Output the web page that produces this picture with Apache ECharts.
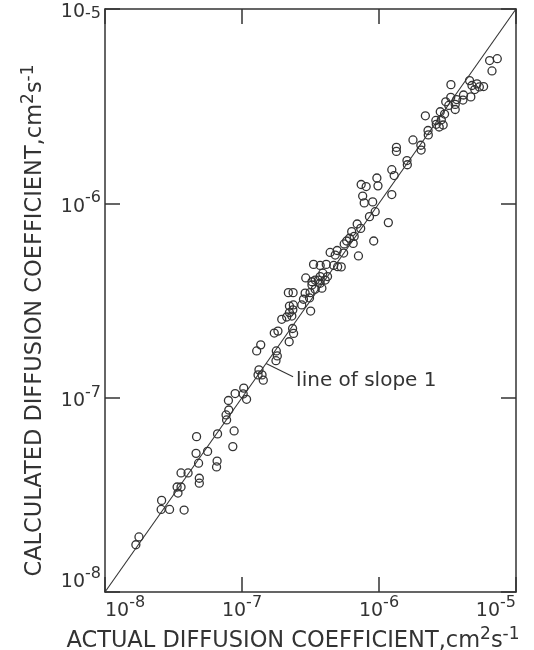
<!DOCTYPE html>
<html>
<head>
<meta charset="utf-8">
<script src="https://cdn.jsdelivr.net/npm/echarts@6/dist/echarts.min.js"></script>
<style>
html,body{margin:0;padding:0;background:#fff;}
#c{width:534px;height:650px;}
</style>
</head>
<body>
<div id="c"></div>
<script>
// Actual diffusion coefficient (cm^2 s^-1)
const actualD = [
1.68e-8,1.77e-8,2.59e-8,2.57e-8,2.96e-8,3.78e-8,3.36e-8,3.59e-8,3.41e-8,3.59e-8,
4.04e-8,4.88e-8,4.88e-8,4.62e-8,5.61e-8,4.82e-8,4.66e-8,6.58e-8,6.52e-8,6.63e-8,
8.76e-8,8.57e-8,7.65e-8,8.01e-8,7.72e-8,7.96e-8,8.91e-8,1.03e-7,1.02e-7,1.08e-7,
1.43e-7,1.33e-7,1.31e-7,1.40e-7,1.28e-7,1.37e-7,1.78e-7,1.81e-7,1.77e-7,1.72e-7,
1.83e-7,2.21e-7,2.38e-7,2.34e-7,1.95e-7,2.12e-7,2.31e-7,2.22e-7,2.35e-7,2.22e-7,
2.37e-7,2.73e-7,3.17e-7,2.81e-7,3.11e-7,2.89e-7,3.14e-7,2.18e-7,2.36e-7,2.92e-7,
3.24e-7,3.42e-7,3.61e-7,3.72e-7,3.83e-7,4.05e-7,4.21e-7,3.89e-7,3.72e-7,3.42e-7,
3.24e-7,3.33e-7,3.72e-7,4.12e-7,4.67e-7,4.99e-7,5.30e-7,4.40e-7,4.79e-7,4.95e-7,
5.52e-7,7.08e-7,5.57e-7,5.81e-7,6.48e-7,6.09e-7,6.32e-7,6.59e-7,9.15e-7,6.93e-7,
7.35e-7,8.52e-7,9.38e-7,8.99e-7,7.80e-7,7.60e-7,7.41e-7,8.06e-7,9.65e-7,9.83e-7,
1.24e-6,1.17e-6,1.24e-6,1.29e-6,1.60e-6,1.61e-6,1.34e-6,1.34e-6,1.77e-6,2.02e-6,
2.03e-6,2.28e-6,2.29e-6,2.18e-6,2.60e-6,2.85e-6,2.62e-6,2.75e-6,2.94e-6,2.80e-6,
3.01e-6,3.07e-6,3.23e-6,3.34e-6,3.69e-6,3.60e-6,3.60e-6,4.10e-6,4.14e-6,4.68e-6,
4.58e-6,4.77e-6,5.19e-6,5.40e-6,5.80e-6,5.00e-6,3.35e-6,6.42e-6,7.30e-6,6.68e-6
];
// Calculated diffusion coefficient (cm^2 s^-1)
const calcD = [
1.75e-8,1.92e-8,2.96e-8,2.66e-8,2.66e-8,2.64e-8,3.47e-8,3.47e-8,3.23e-8,4.10e-8,
4.10e-8,3.85e-8,3.63e-8,5.17e-8,5.29e-8,4.60e-8,6.30e-8,4.72e-8,4.40e-8,6.51e-8,
6.74e-8,5.60e-8,8.15e-8,8.64e-8,7.68e-8,9.67e-8,1.05e-7,1.12e-7,1.045e-7,9.81e-8,
1.23e-7,1.39e-7,1.31e-7,1.31e-7,1.74e-7,1.87e-7,1.74e-7,1.64e-7,1.55e-7,2.15e-7,
2.20e-7,1.94e-7,2.14e-7,2.27e-7,2.53e-7,2.60e-7,2.63e-7,2.74e-7,2.83e-7,2.96e-7,
3.00e-7,3.00e-7,2.79e-7,3.21e-7,3.26e-7,3.45e-7,3.47e-7,3.47e-7,3.47e-7,4.13e-7,
3.80e-7,3.61e-7,4.03e-7,3.88e-7,3.66e-7,4.03e-7,4.20e-7,4.37e-7,4.20e-7,4.03e-7,
3.95e-7,4.85e-7,4.79e-7,4.85e-7,4.79e-7,4.72e-7,4.71e-7,5.59e-7,5.42e-7,5.72e-7,
5.55e-7,5.36e-7,6.18e-7,6.40e-7,6.22e-7,6.61e-7,7.15e-7,6.76e-7,6.40e-7,7.83e-7,
7.43e-7,8.54e-7,9.06e-7,1.017e-6,1.005e-6,1.09e-6,1.25e-6,1.22e-6,1.35e-6,1.23e-6,
1.11e-6,7.96e-7,1.49e-6,1.39e-6,1.66e-6,1.58e-6,1.94e-6,1.85e-6,2.12e-6,1.99e-6,
1.88e-6,2.37e-6,2.25e-6,2.82e-6,2.67e-6,2.69e-6,2.55e-6,2.47e-6,2.53e-6,2.96e-6,
2.88e-6,3.33e-6,3.19e-6,3.51e-6,3.42e-6,3.23e-6,3.04e-6,3.40e-6,3.61e-6,3.53e-6,
4.28e-6,4.04e-6,4.12e-6,3.97e-6,3.99e-6,3.85e-6,4.08e-6,5.43e-6,5.55e-6,4.80e-6
];
// Line of slope 1 end points and annotation leader
const slopeLine = [[1e-8, 1e-8], [1e-5, 1e-5]];
const leader = [[1.5e-7, 1.5e-7], [2.36e-7, 1.28e-7]];
const annotationText = 'line of slope 1';
const axisMin = 1e-8, axisMax = 1e-5;
const xTitle = '{t|ACTUAL DIFFUSION COEFFICIENT,cm}{s|2}{t|s}{s|-1}';
const yTitle = '{t|CALCULATED DIFFUSION COEFFICIENT,cm}{s|2}{t|s}{s|-1}';

const ink = '#333333';
const font = 'DejaVu Sans';
const tickFmt = v => '{b|10}{s|' + Math.round(Math.log10(v)) + '}';
const yTickFmt = v => {
  const e = Math.round(Math.log10(v));
  return e === Math.round(Math.log10(axisMax)) ? '{bt|10}{st|' + e + '}' : '{b|10}{s|' + e + '}';
};
const tickRich = {
  b: {fontSize: 19, fontFamily: font, color: ink, lineHeight: 26, verticalAlign: 'bottom'},
  s: {fontSize: 16, fontFamily: font, color: ink, lineHeight: 26, verticalAlign: 'top'},
  bt: {fontSize: 19, fontFamily: font, color: ink, lineHeight: 26, verticalAlign: 'bottom', padding: [10, 0, 0, 0]},
  st: {fontSize: 16, fontFamily: font, color: ink, lineHeight: 26, verticalAlign: 'top', padding: [10, 0, 0, 0]}
};
const titleRich = {
  t: {fontSize: 22.5, fontFamily: font, color: ink, lineHeight: 27, verticalAlign: 'bottom'},
  s: {fontSize: 17, fontFamily: font, color: ink, lineHeight: 27, verticalAlign: 'top'}
};
const lineStyle = {color: ink, width: 1.5};
const baseAxis = {
  type: 'log', logBase: 10, min: axisMin, max: axisMax,
  axisLine: {show: true, lineStyle: lineStyle},
  axisTick: {show: true, inside: true, length: 15, lineStyle: lineStyle},
  minorTick: {show: false},
  splitLine: {show: false}
};

const chart = echarts.init(document.getElementById('c'), null, {renderer: 'canvas'});
chart.setOption({
  backgroundColor: '#ffffff',
  animation: false,
  grid: {left: 105, right: 18, top: 9, bottom: 58, containLabel: false, outerBoundsMode: 'none'},
  xAxis: [
    Object.assign({}, baseAxis, {
      position: 'bottom',
      name: xTitle, nameLocation: 'middle', nameGap: 34,
      nameTextStyle: {rich: titleRich, padding: [0, 35, 0, 0]},
      axisLabel: {formatter: tickFmt, rich: tickRich, margin: 3, alignMinLabel: 'left', alignMaxLabel: 'right'}
    }),
    Object.assign({}, baseAxis, {position: 'top', axisLabel: {show: false}})
  ],
  yAxis: [
    Object.assign({}, baseAxis, {
      position: 'left',
      name: yTitle, nameLocation: 'middle', nameGap: 58,
      nameTextStyle: {rich: titleRich, padding: [0, 40, 0, 0]},
      axisLabel: {formatter: yTickFmt, rich: tickRich, margin: 4, verticalAlignMinLabel: 'bottom'}
    }),
    Object.assign({}, baseAxis, {position: 'right', axisLabel: {show: false}})
  ],
  series: [
    {
      type: 'line', data: slopeLine, showSymbol: false, symbol: 'none',
      lineStyle: {color: ink, width: 1.1}, silent: true, z: 1
    },
    {
      type: 'line', data: leader, showSymbol: false, symbol: 'none',
      lineStyle: {color: ink, width: 1.1}, silent: true, z: 1
    },
    {
      type: 'scatter', data: [{value: leader[1], label: {show: true}}],
      symbolSize: 0, silent: true,
      itemStyle: {opacity: 1},
      label: {show: true, position: 'right', distance: 3, offset: [0, 4], formatter: annotationText,
        fontFamily: font, fontSize: 20, color: ink, opacity: 1}
    },
    {
      type: 'scatter',
      data: actualD.map((x, i) => [x, calcD[i]]),
      symbol: 'circle', symbolSize: 8,
      itemStyle: {color: 'rgba(0,0,0,0)', borderColor: ink, borderWidth: 1.3, opacity: 1},
      z: 3
    }
  ]
});
</script>
</body>
</html>
